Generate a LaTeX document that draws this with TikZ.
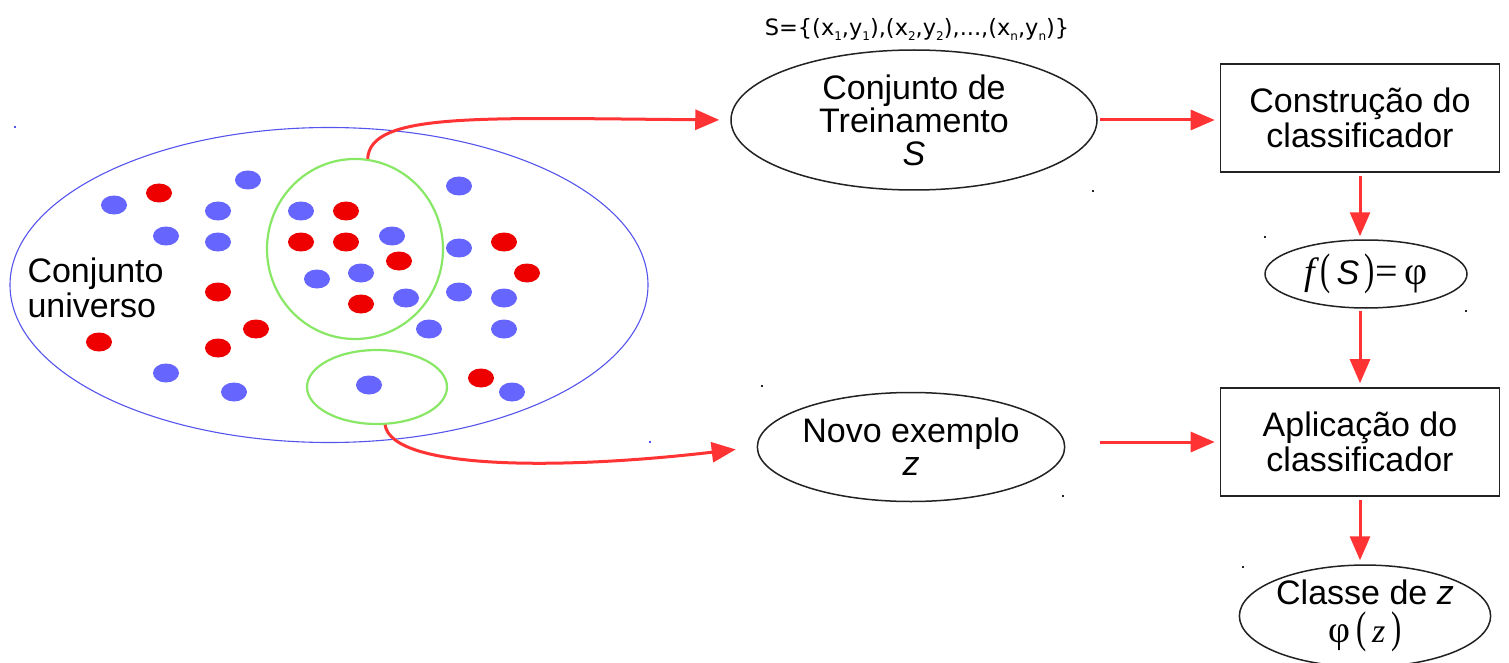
\documentclass[tikz,border=0pt]{standalone}
\usepackage{fontspec}
\setmainfont{Liberation Sans}
\newfontfamily\dejavu{DejaVu Sans}
\newfontfamily\lserif{Liberation Serif}
\usetikzlibrary{arrows.meta,shapes.geometric}
\definecolor{dotblue}{HTML}{6666FF}
\definecolor{dotred}{HTML}{EE0000}
\definecolor{lineblue}{HTML}{5555EE}
\definecolor{ringgreen}{HTML}{88E866}
\definecolor{arrowred}{HTML}{FF3333}
\definecolor{edge}{HTML}{222222}
\newcommand{\subidx}[1]{\raisebox{-5pt}{\fontsize{12}{12}\selectfont #1}}
\newcommand{\bigpar}[1]{\scalebox{0.9}[1.3]{\lserif #1}}
\tikzset{
  bdot/.style={fill=dotblue, draw=none, ellipse, minimum width=26pt, minimum height=19pt, inner sep=0pt},
  rdot/.style={fill=dotred, draw=none, ellipse, minimum width=26pt, minimum height=19pt, inner sep=0pt},
  flowell/.style={draw=edge, line width=1.5pt, ellipse, inner sep=0pt, align=center, font=\fontsize{34}{33}\selectfont},
  flowbox/.style={draw=edge, line width=1.6pt, rectangle, inner sep=0pt, minimum width=279pt, minimum height=108pt, align=center, font=\fontsize{34}{35}\selectfont},
  redarrow/.style={draw=arrowred, line width=3pt, -{Triangle[length=24pt,width=20pt]}},
  ring/.style={draw=ringgreen, line width=2.2pt, ellipse, inner sep=0pt},
  speck/.style={inner sep=0pt, minimum size=2.5pt, rectangle, draw=none}
}
\begin{document}
\begin{tikzpicture}[x=1pt,y=-1pt]
\useasboundingbox (0,0) rectangle (1509,663);
\fill[white] (0,0) rectangle (1509,663);

% universe
\node[draw=lineblue, line width=1.1pt, ellipse, minimum width=638pt, minimum height=315pt, inner sep=0pt] (univ) at (329,285) {};
\node[align=left, anchor=west, font=\fontsize{34}{35}\selectfont] (univlabel) at (24,288) {Conjunto\\universo};

% blue dots
\foreach \i/\p in {1/{(248,180)},2/{(114,205)},3/{(218,211)},4/{(166,236)},5/{(218,242)},6/{(301,211)},7/{(392,236)},8/{(317,279)},9/{(361,273)},10/{(406,298)},11/{(459,186)},12/{(459,248)},13/{(459,292)},14/{(504,298)},15/{(429,329)},16/{(504,329)},17/{(166,373)},18/{(234,392)},19/{(369,385)},20/{(512,392)}}
  \node[bdot] (b\i) at \p {};
% red dots
\foreach \i/\p in {1/{(159,193)},2/{(346,211)},3/{(301,242)},4/{(346,242)},5/{(399,261)},6/{(504,242)},7/{(527,273)},8/{(218,292)},9/{(361,304)},10/{(256,329)},11/{(99,342)},12/{(218,348)},13/{(481,378)}}
  \node[rdot] (r\i) at \p {};

% green rings
\node[ring, minimum width=176pt, minimum height=180pt] (g1) at (355,249) {};
\node[ring, minimum width=140pt, minimum height=74pt] (g2) at (377,387) {};

% formula
\node[font=\dejavu\fontsize{22.5}{22}\selectfont] (formula) at (917,29)
  {S=\{(x\subidx{1},y\subidx{1}),(x\subidx{2},y\subidx{2}),...,(x\subidx{n},y\subidx{n})\}};

% flow nodes
\node[flowell, minimum width=366pt, minimum height=140pt] (train) at (914,120) {Conjunto de\\Treinamento\\\textit{S}};
\node[flowbox] (build) at (1360,118) {Construção do\\classificador};
\node[flowell, minimum width=202pt, minimum height=68pt, font=\fontsize{34}{34}\selectfont] (fs) at (1366,274)
  {{\lserif\itshape\fontsize{38}{38}\selectfont f}\,\bigpar{(}\,\textit{S}\,\bigpar{)}{\lserif\fontsize{40}{40}\selectfont =\,φ}};
\node[flowbox] (apply) at (1360,442) {Aplicação do\\classificador};
\node[flowell, minimum width=298pt, minimum height=109pt] (novo) at (911,447) {Novo exemplo\\\textit{z}};
\node[flowell, minimum width=246pt, minimum height=90pt, font=\fontsize{34}{38}\selectfont] (classe) at (1365,616)
  {Classe de \textit{z}\\{\lserif\fontsize{38}{38}\selectfont φ}\,\bigpar{(}\,{\lserif\itshape z}\,\bigpar{)}};

\coordinate (trainout) at (1100,120);
\coordinate (novoout) at (1100,442);

% arrows
\draw[redarrow, shorten >=11pt] (g1.82) .. controls (370,112) and (480,118) .. (train.west);
\draw[redarrow, shorten >=21pt] (g2.-78) .. controls (392,470) and (560,470) .. (novo.west);
\draw[redarrow, shorten >=5pt] (trainout) -- (trainout -| build.west);
\draw[redarrow, shorten <=3pt, shorten >=3pt] (build.south) -- (build.south |- fs.north);
\draw[redarrow, shorten <=2pt, shorten >=4pt] (fs.south -| apply.north) -- (apply.north);
\draw[redarrow, shorten >=5pt] (novoout) -- (apply.west);
\draw[redarrow, shorten <=3pt, shorten >=4pt] (apply.south) -- (apply.south |- classe.north);

% small specks
\node[speck, fill=lineblue] (s1) at (15,127) {};
\node[speck, fill=lineblue] (s2) at (650,442) {};
\node[speck, fill=edge] (s3) at (1093,191) {};
\node[speck, fill=edge] (s4) at (1265,237) {};
\node[speck, fill=edge] (s5) at (1466,311) {};
\node[speck, fill=edge] (s6) at (762,386) {};
\node[speck, fill=edge] (s7) at (1063,496) {};
\node[speck, fill=edge] (s8) at (1243,567) {};
\end{tikzpicture}
\end{document}
